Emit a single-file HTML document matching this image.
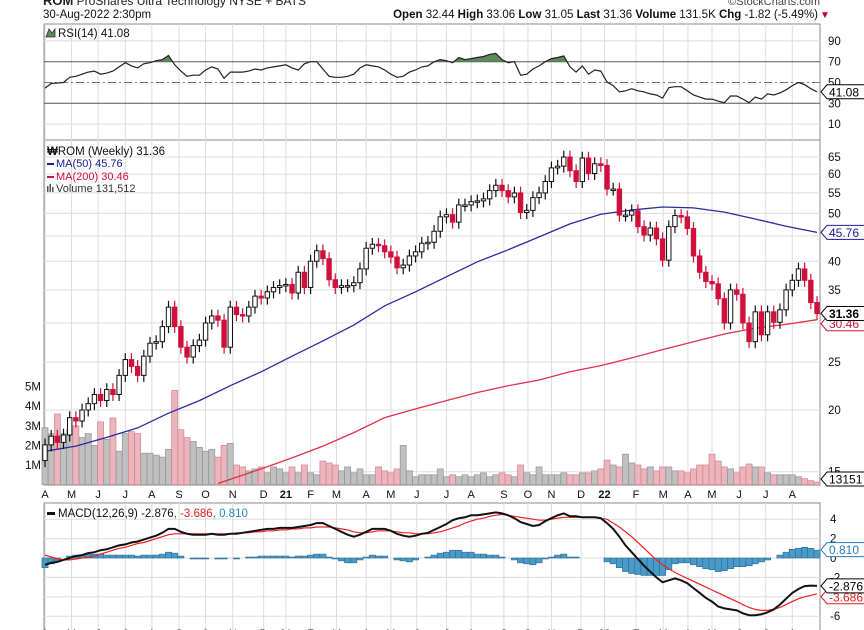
<!DOCTYPE html>
<html><head><meta charset="utf-8">
<style>
html,body{margin:0;padding:0;background:#fff;}
svg{display:block;font-family:"Liberation Sans",Arial,sans-serif;}
</style></head>
<body>
<svg id="chart" width="864" height="630" viewBox="0 0 864 630" xmlns="http://www.w3.org/2000/svg">
<text x="43" y="5" font-size="12" fill="#222"><tspan font-weight="bold" font-size="13">ROM</tspan> ProShares Ultra Technology  NYSE + BATS</text>
<text x="820" y="5" font-size="11" fill="#444" text-anchor="end">©StockCharts.com</text>
<text x="43" y="18" font-size="11.5" fill="#111">30-Aug-2022 2:30pm</text>
<text x="818" y="18" font-size="11.5" fill="#111" text-anchor="end"><tspan font-weight="bold">Open</tspan> 32.44 <tspan font-weight="bold">High</tspan> 33.06 <tspan font-weight="bold">Low</tspan> 31.05 <tspan font-weight="bold">Last</tspan> 31.36 <tspan font-weight="bold">Volume</tspan> 131.5K <tspan font-weight="bold">Chg</tspan> -1.82 (-5.49%)</text>
<text x="820" y="18" font-size="10" fill="#c00020">▼</text>
<g id="grid"></g>
<g id="marks"></g>
<g id="labels"></g>
</svg>
<script>
// ---------- data ----------
const monthLabels = ["A","M","J","J","A","S","O","N","D","21","F","M","A","M","J","J","A","S","O","N","D","22","F","M","A","M","J","J","A"];
const monthWeek = [0,4.3,8.6,13,17.3,21.7,26,30.4,35.4,39,43,47.2,52,56,60.2,65,69,74.3,78.2,82,86.8,90.6,95.7,100.1,104.1,108,112.4,116.7,121];
const closes = [17,17.7,17.2,17.8,19.3,19,20,20.6,21.5,20.9,22,21.5,23.5,25.3,24.5,23.5,25.7,27.3,27.5,29.5,32.3,29.5,26.8,25.6,27,27.7,30,31,30.4,26.8,32.3,31.2,31,32.3,34,33.7,34.7,35.4,35.7,35.9,34.5,38,35.4,40,42,40.5,36.7,35.4,35.7,35.7,36.2,38.6,42.5,43.3,43,41.8,40.8,38.8,39.3,41,41.8,43.5,43.7,46,49.2,49.7,48,52,52,52.8,53,53.5,55.6,57,55.6,54,55,50.2,50.7,53.8,55,58,61.8,62.3,65,61,58,64.7,60.2,63,62.5,56,56,49.6,49.6,50.6,47,45.2,46.7,44.4,40.2,47,49.5,49.2,46.6,41,38,36.4,36,33.6,30,35,34.3,30,27.5,31.6,28.4,31.6,30.1,31.9,35,36.6,38.6,36.6,33,31.36];
const firstOpen = 15.8;
const volumes = [2.9,2.6,3.6,2.6,2.8,3.0,2.4,2.6,2.0,3.2,2.3,3.4,1.7,2.6,2.7,2.6,1.6,1.6,1.5,1.4,1.8,4.8,2.8,2.4,2.2,1.9,1.7,1.8,1.4,2.0,2.1,1.0,0.9,0.7,0.8,0.9,0.6,0.9,0.8,0.6,0.9,0.6,1.0,0.6,0.5,1.2,1.1,1.0,0.7,0.9,0.6,0.8,0.5,0.5,0.9,0.7,0.6,0.8,2.0,0.7,0.4,0.5,0.5,0.5,0.8,0.4,0.5,0.4,0.5,0.4,0.5,0.6,0.4,0.5,0.6,0.5,0.4,1.0,0.6,0.5,0.9,0.5,0.5,0.5,0.6,0.5,0.5,0.6,0.6,0.7,0.8,1.25,1.0,0.9,1.55,1.1,1.0,0.8,0.9,0.7,0.9,0.9,0.7,0.7,0.6,0.8,1.0,1.0,1.55,1.2,0.9,0.8,0.6,0.9,1.05,0.9,0.9,0.6,0.5,0.5,0.5,0.5,0.4,0.3,0.2,0.13];
const ma50Weeks = [0,5,10,15,20,25,30,35,40,45,50,55,60,65,70,75,80,85,90,95,100,105,110,115,120,125];
const ma50Vals = [16.5,16.9,17.6,18.4,19.7,20.9,22.4,23.9,25.7,27.6,29.7,32.5,34.7,37.2,39.9,42.2,44.8,47.6,49.8,50.8,51.5,51.3,50.3,48.7,47.1,45.76];
const ma200Weeks = [28,35,40,45,50,55,60,65,70,75,80,85,90,95,100,105,110,115,120,125];
const ma200Vals = [14.2,15.2,16,16.9,18,19.3,20.1,20.9,21.7,22.4,23,23.9,24.6,25.5,26.5,27.5,28.5,29.3,29.8,30.46];
const rsiVals = [44.6,49,49.5,50,55,56,58,60,61,58,59,61,65,69,66,64,68,69,71,72,76,67,61,56,57,57,62,65,63,54,60,60,60,61,63,62,64,65,66,67,64,62,68,70,70,63,56,55,55,56,58,64,67,66,65,62,58,55,56,60,62,65,66,70,72,71,69,74,72,73,74,75,77,78,72,69,70,57,58,63,66,70,73,74,75.5,65,60,66,58,62,61,50.5,47,41,42,44,42,41,39,38,35,45,46,46,42,38,36,34,34,32,30.6,37,37,34,30.6,36,34,39,38,40,43,47,50,48,44,41.08];
const macdVals = [-0.7,-0.5,-0.4,-0.2,0,0.2,0.3,0.5,0.6,0.8,0.9,1.1,1.3,1.4,1.6,1.7,1.9,2.1,2.3,2.6,3.0,3.0,2.7,2.5,2.4,2.4,2.4,2.5,2.4,2.4,2.5,2.5,2.6,2.7,2.8,2.9,3.0,3.0,3.1,3.1,3.1,3.2,3.3,3.4,3.6,3.6,3.3,3.0,2.7,2.4,2.2,2.4,2.7,3.0,3.0,3.0,2.8,2.5,2.3,2.2,2.3,2.5,2.6,2.9,3.2,3.5,3.9,4.1,4.2,4.4,4.4,4.5,4.6,4.7,4.6,4.4,4.1,3.7,3.5,3.3,3.4,3.8,4.1,4.4,4.6,4.3,4.3,4.2,4.2,4.2,4.1,3.6,3.0,2.2,1.3,0.6,-0.1,-0.8,-1.4,-2.0,-2.5,-2.3,-2.1,-2.3,-2.6,-3.1,-3.6,-4.1,-4.5,-5.0,-5.2,-5.3,-5.4,-5.7,-5.9,-5.9,-5.8,-5.6,-5.3,-4.8,-4.2,-3.6,-3.2,-2.9,-2.85,-2.876];
const signalVals = [0.3,0.1,-0.1,-0.2,-0.2,-0.1,0,0.1,0.2,0.4,0.6,0.8,1.0,1.1,1.3,1.5,1.6,1.8,2.0,2.2,2.4,2.5,2.5,2.5,2.5,2.5,2.5,2.5,2.5,2.5,2.5,2.6,2.6,2.6,2.7,2.7,2.8,2.8,2.9,2.9,3.0,3.0,3.1,3.1,3.2,3.2,3.2,3.1,3.0,2.9,2.7,2.6,2.6,2.7,2.8,2.8,2.8,2.7,2.6,2.6,2.5,2.5,2.5,2.6,2.7,2.9,3.1,3.3,3.6,3.8,4.0,4.1,4.3,4.4,4.5,4.4,4.3,4.2,4.1,4.0,3.9,3.9,4.0,4.1,4.2,4.2,4.2,4.2,4.2,4.2,4.1,4.0,3.6,3.2,2.7,2.2,1.6,1.0,0.4,-0.2,-0.7,-1.1,-1.5,-1.8,-2.1,-2.4,-2.7,-3.0,-3.3,-3.6,-3.9,-4.2,-4.5,-4.8,-5.1,-5.3,-5.4,-5.4,-5.3,-5.1,-4.8,-4.5,-4.2,-4.0,-3.85,-3.686];
const priceTicks = [65,60,55,50,45,40,35,30,25,20,15];
const volTicks = [1,2,3,4,5];
const rsiTicks = [90,70,50,30,10];
const macdTicks = [4,2,0,-2,-4,-6];

// ---------- scales ----------
const L=44, R=820;
const X0=45, DX=6.176;
const xW = i => X0 + DX*i;
const priceY = p => 410 - 214.6*Math.log(p/20);
const volY = v => 484.6 - 19.6*v;
const rsiY = v => 134.5 - 1.04*v;
const macdY = v => 558 - 9.7*v;
const NS="http://www.w3.org/2000/svg";
const grid=document.getElementById('grid'), marks=document.getElementById('marks'), labels=document.getElementById('labels');
function mk(parent, tag, attrs){const e=document.createElementNS(NS,tag);for(const k in attrs)e.setAttribute(k,attrs[k]);parent.appendChild(e);return e;}
const RED="#d0103a";

// panels
const panels=[[24,140],[140,485],[503,640]];
panels.forEach((p,k)=>{
  const r=mk(grid,'rect',{x:L,y:p[0],width:R-L,height:p[1]-p[0],fill:'#fff',stroke:'#888','stroke-width':1});
  
  
});
// vertical month grid
monthWeek.forEach((w,k)=>{
  const gx=xW(w);
  panels.forEach(p=>{
    const l=mk(grid,'line',{x1:gx,x2:gx,y1:p[0],y2:p[1],stroke:'#ddd','stroke-width':1});
    
    
  });
  const t=mk(labels,'text',{x:gx,y:498,'font-size':11,'text-anchor':'middle',fill:'#111','font-weight':(monthLabels[k].length>1?'bold':'normal')});
  t.textContent=monthLabels[k];
  
  
  const t2=mk(labels,'text',{x:gx,y:637,'font-size':11,'text-anchor':'middle',fill:'#111'});
  t2.textContent=monthLabels[k];
  
  
});
// price grid + ticks
priceTicks.forEach(p=>{
  const y=priceY(p);
  const l=mk(grid,'line',{x1:L,x2:R,y1:y,y2:y,stroke:'#ddd'});
  
  
  const t=mk(labels,'text',{x:828,y:y+4,'font-size':11.5,fill:'#111'});
  t.textContent=p;
  
  
});
volTicks.forEach(v=>{
  const t=mk(labels,'text',{x:41,y:volY(v)+4,'font-size':11.5,fill:'#111','text-anchor':'end'});
  t.textContent=v+'M';
  
  
});
rsiTicks.forEach(v=>{
  const y=rsiY(v);
  const strong=(v===70||v===30);
  const l=mk(grid,'line',{x1:L,x2:R,y1:y,y2:y,stroke:strong?'#555':(v===50?'#777':'#ddd'),'stroke-width':1,'stroke-dasharray':v===50?'8,3,2,3':'none'});
  
  
  const t=mk(labels,'text',{x:828,y:y+4,'font-size':11.5,fill:'#111'});
  t.textContent=v;
  
  
});
macdTicks.forEach(v=>{
  const y=macdY(v);
  const l=mk(grid,'line',{x1:L,x2:R,y1:y,y2:y,stroke:'#ddd'});
  
  
  const t=mk(labels,'text',{x:830,y:y+4,'font-size':11.5,fill:'#111'});
  t.textContent=v;
  
  
});

// volume bars
volumes.forEach((v,i)=>{
  const prev = i===0?firstOpen:closes[i-1];
  const down = closes[i]<prev;
  const y=volY(v);
  const b=mk(marks,'rect',{x:xW(i)-3,y:y,width:6,height:484.6-y,fill:down?'#ebb5bd':'#c0c0c0',stroke:down?'#d88a96':'#9a9a9a','stroke-width':0.8});
  
  
});
// MA lines
function poly(weeks, vals, yf){return weeks.map((w,k)=>xW(w).toFixed(1)+','+yf(vals[k]).toFixed(1)).join(' ');}
const m200=mk(marks,'polyline',{points:poly(ma200Weeks,ma200Vals,priceY),fill:'none',stroke:'#e0304a','stroke-width':1.3});


const m50=mk(marks,'polyline',{points:poly(ma50Weeks,ma50Vals,priceY),fill:'none',stroke:'#2a2aa0','stroke-width':1.3});


// candles
closes.forEach((c,i)=>{
  const o = i===0?firstOpen:closes[i-1];
  const down = c<o;
  const col = down?RED:'#111';
  const hi=Math.max(o,c)*1.03, lo=Math.min(o,c)*0.97;
  const x=xW(i);
  const w=mk(marks,'line',{x1:x,x2:x,y1:priceY(hi),y2:priceY(lo),stroke:col,'stroke-width':1.2});
  
  
  const yt=priceY(Math.max(o,c)), yb=priceY(Math.min(o,c));
  const b=mk(marks,'rect',{x:x-2.2,y:yt,width:4.4,height:Math.max(1.5,yb-yt),fill:down?RED:'#fff',stroke:col,'stroke-width':1});
  
  
});
// RSI
const rsiPts = rsiVals.map((v,i)=>xW(i).toFixed(1)+','+rsiY(v).toFixed(1));
const defs=mk(marks,'defs',{});
const cp=mk(defs,'clipPath',{id:'above70'});
mk(cp,'rect',{x:L,y:24,width:R-L,height:rsiY(70)-24});
const area=mk(marks,'polygon',{points:xW(0)+','+rsiY(70)+' '+rsiPts.join(' ')+' '+xW(rsiVals.length-1)+','+rsiY(70),fill:'#5a8a5a','clip-path':'url(#above70)'});


const rl=mk(marks,'polyline',{points:rsiPts.join(' '),fill:'none',stroke:'#222','stroke-width':1.2});


// MACD histogram
macdVals.forEach((m,i)=>{
  const h=m-signalVals[i];
  const y0=macdY(0), y1=macdY(h);
  const b=mk(marks,'rect',{x:xW(i)-3.1,y:Math.min(y0,y1),width:6.2,height:Math.abs(y1-y0),fill:'#4a9ac8',stroke:'#2a6a98','stroke-width':0.6});
  
  
});
const sl=mk(marks,'polyline',{points:signalVals.map((v,i)=>xW(i).toFixed(1)+','+macdY(v).toFixed(1)).join(' '),fill:'none',stroke:'#f02020','stroke-width':1.2});


const ml=mk(marks,'polyline',{points:macdVals.map((v,i)=>xW(i).toFixed(1)+','+macdY(v).toFixed(1)).join(' '),fill:'none',stroke:'#111','stroke-width':2});



// value tags
function tag(name,y,txt,col,bold){
  const g=mk(labels,'g',{});
  
  
  mk(g,'path',{d:`M821 ${y} L827 ${y-7} L866 ${y-7} L866 ${y+7} L827 ${y+7} Z`,fill:'#fff',stroke:col,'stroke-width':1});
  const t=mk(g,'text',{x:829,y:y+4.5,'font-size':12,fill:col,'font-weight':bold?'bold':'normal'});
  t.textContent=txt;
}
tag('ma200-value-tag',priceY(ma200Vals[ma200Vals.length-1])+4,'30.46','#d0103a',false);
tag('ma50-value-tag',priceY(ma50Vals[ma50Vals.length-1]),'45.76','#1a1a90',false);
tag('last-price-tag',priceY(closes[closes.length-1]),'31.36','#000',true);
tag('rsi-value-tag',rsiY(rsiVals[rsiVals.length-1]),'41.08','#000',false);
tag('volume-value-tag',volY(0.13)-3,'13151','#000',false);
tag('macd-signal-tag',macdY(signalVals[signalVals.length-1])+3,'-3.686','#e02020',false);
tag('macd-value-tag',macdY(macdVals[macdVals.length-1]),'-2.876','#000',false);
tag('macd-hist-tag',macdY(0.81)-0.5,'0.810','#2a7ab8',false);
</script>
<svg width="864" height="630" style="position:absolute;left:0;top:0;pointer-events:none" xmlns="http://www.w3.org/2000/svg" font-family="Liberation Sans, Arial, sans-serif">
<g><path d="M46 37 L49 29 L52 33 L55 29 L55 37 Z" fill="#5a8a5a" stroke="#333" stroke-width="0.8"/><text x="58" y="37" font-size="11.5" fill="#111">RSI(14) 41.08</text></g>
<g><text x="47" y="155" font-size="11.5" fill="#111"><tspan font-weight="bold">₩</tspan>ROM (Weekly) 31.36</text></g>
<g><rect x="47" y="163" width="7" height="2" fill="#1a1a90"/><text x="56" y="167" font-size="11" fill="#1a1a90">MA(50) 45.76</text></g>
<g><rect x="47" y="176" width="7" height="2" fill="#d0103a"/><text x="56" y="180" font-size="11" fill="#d0103a">MA(200) 30.46</text></g>
<g><rect x="47" y="186" width="1.5" height="6" fill="#555"/><rect x="49.5" y="184" width="1.5" height="8" fill="#555"/><rect x="52" y="187" width="1.5" height="5" fill="#555"/><text x="56" y="192" font-size="11" fill="#333">Volume 131,512</text></g>
<g><rect x="47" y="512" width="8" height="3" fill="#111"/><text x="58" y="517" font-size="11.5" fill="#111">MACD(12,26,9) -2.876<tspan fill="#e02020">, -3.686</tspan><tspan fill="#2a8ac8">, 0.810</tspan></text></g>
</svg>
</body></html>
